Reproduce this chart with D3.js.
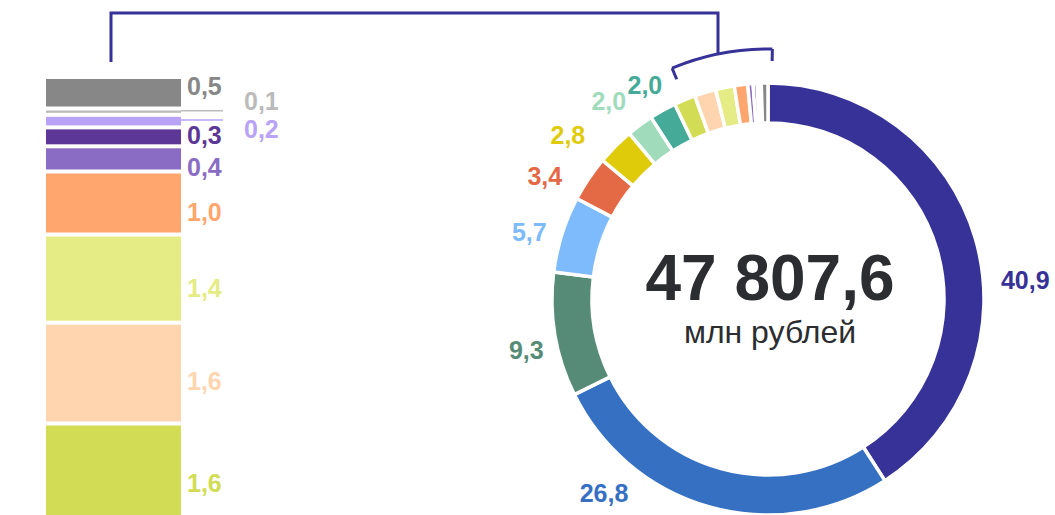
<!DOCTYPE html>
<html>
<head>
<meta charset="utf-8">
<script src="https://cdn.jsdelivr.net/npm/d3@7"></script>
<style>
  body { margin: 0; background: #fff; }
  svg { font-family: "Liberation Sans", Arial, sans-serif; }
</style>
</head>
<body>
<div id="chart"></div>
<script>
// shares, % (clockwise from 12 o'clock)
const donutValues = [40.9, 26.8, 9.3, 5.7, 3.4, 2.8, 2.0, 2.0, 1.6, 1.6, 1.4, 1.0, 0.4, 0.3, 0.2, 0.1, 0.5];
const donutColors = ['#373297', '#3570c2', '#568b78', '#7ebbfc', '#e46a46', '#dfcb0a', '#a0dcbb', '#45aa98',
  '#d2dd55', '#fed5ae', '#e5eb85', '#ffa56e', '#8a6cc4', '#5c3797', '#b9a3f7', '#bbbbbb', '#878787'];
const labelled = 8;          // the first slices carry their own label, the rest go to the bar
const totalValue = 47807.6;
const totalUnit = 'млн рублей';

const w = 1055;
const h = 515;

const ru = d3.formatLocale({ decimal: ',', thousands: '\u00a0', grouping: [3], currency: ['', ' ₽'] });
const fmt = ru.format('.1f');
const fmtTotal = ru.format(',.1f');

const svg = d3.select('#chart')
  .append('svg')
  .attr('width', w)
  .attr('height', h);

// ---- donut ----
const cx = 768, cy = 299;
const outerR = 216, innerR = 176;

const pie = d3.pie().sort(null).value(d => d);
const arcs = pie(donutValues);
const arc = d3.arc().innerRadius(innerR).outerRadius(outerR);

const donut = svg.append('g').attr('transform', `translate(${cx},${cy})`);

donut.selectAll('path')
  .data(arcs)
  .enter()
  .append('path')
  .attr('d', arc)
  .attr('fill', (d, i) => donutColors[i])
  .attr('stroke', '#fff')
  .attr('stroke-width', 3.5);

// label placement around the ring: [angle in degrees, radius]
const donutLabelPos = [[85.8, 258], [220.2, 254], [258.1, 247], [285.7, 248], [298.9, 255], [309.4, 259], [321.2, 254], [330.1, 247]];

donut.selectAll('text.val')
  .data(arcs.slice(0, labelled))
  .enter()
  .append('text')
  .attr('class', 'val')
  .attr('x', (d, i) => d3.pointRadial(donutLabelPos[i][0] * Math.PI / 180, donutLabelPos[i][1])[0])
  .attr('y', (d, i) => d3.pointRadial(donutLabelPos[i][0] * Math.PI / 180, donutLabelPos[i][1])[1])
  .attr('dy', '0.36em')
  .attr('text-anchor', 'middle')
  .style('font-size', '25px')
  .style('font-weight', 'bold')
  .style('fill', (d, i) => donutColors[i])
  .text(d => fmt(d.data));

donut.append('text')
  .attr('x', 2)
  .attr('y', 1)
  .attr('text-anchor', 'middle')
  .style('font-size', '64px')
  .style('font-weight', 'bold')
  .style('fill', '#2b2d30')
  .text(fmtTotal(totalValue));

donut.append('text')
  .attr('x', 2)
  .attr('y', 44)
  .attr('text-anchor', 'middle')
  .style('font-size', '32px')
  .style('fill', '#2b2d30')
  .text(totalUnit);

// bracket over the small slices
const restStart = arcs[labelled].startAngle + 3 * Math.PI / 180;
const restEnd = 2 * Math.PI + 1 * Math.PI / 180;
const bracketR = 250, tickR = 238;
const bracketColor = '#373297';

donut.append('path')
  .attr('d', d3.arc().innerRadius(bracketR).outerRadius(bracketR).startAngle(restStart).endAngle(restEnd)())
  .attr('fill', 'none')
  .attr('stroke', bracketColor)
  .attr('stroke-width', 3);

[restStart, restEnd].forEach(a => {
  const p0 = d3.pointRadial(a, bracketR);
  const p1 = d3.pointRadial(a, tickR);
  donut.append('line')
    .attr('x1', p0[0]).attr('y1', p0[1])
    .attr('x2', p1[0]).attr('y2', p1[1])
    .attr('stroke', bracketColor)
    .attr('stroke-width', 3);
});

// ---- stacked bar of the small slices ----
const barValues = donutValues.slice(labelled).reverse();
const barColors = donutColors.slice(labelled).reverse();
const barX = 46, barW = 135, gap = 4;

const yScale = d3.scaleLinear()
  .domain([0, d3.sum(barValues)])
  .range([77, 77 + 63 * d3.sum(barValues)]);

let acc = 0;
const stack = barValues.map((v, i) => {
  const s = { v, i, y0: acc, y1: acc + v };
  acc += v;
  return s;
});

svg.selectAll('rect.seg')
  .data(stack)
  .enter()
  .append('rect')
  .attr('class', 'seg')
  .attr('x', barX)
  .attr('y', d => yScale(d.y0) + gap / 2)
  .attr('width', barW)
  .attr('height', d => Math.max(1.3, yScale(d.y1) - yScale(d.y0) - gap))
  .style('fill', d => barColors[d.i]);

// label nudges (baseline offset from segment middle), and which sit outside with a leader
const barLabelDy = [2, -2, 17, 7, 17, 18, 18, 17, 18];
const barLabelOut = [false, true, true, false, false, false, false, false, false];
const leaderEnd = 223;

svg.selectAll('line.leader')
  .data(stack.filter(d => barLabelOut[d.i]))
  .enter()
  .append('line')
  .attr('class', 'leader')
  .attr('x1', barX + barW)
  .attr('x2', leaderEnd)
  .attr('y1', d => (yScale(d.y0) + yScale(d.y1)) / 2 - 1)
  .attr('y2', d => (yScale(d.y0) + yScale(d.y1)) / 2 - 1)
  .attr('stroke', d => barColors[d.i])
  .attr('stroke-width', 1.5);

svg.selectAll('text.barval')
  .data(stack)
  .enter()
  .append('text')
  .attr('class', 'barval')
  .attr('x', d => barLabelOut[d.i] ? leaderEnd + 21 : barX + barW + 6)
  .attr('y', d => (yScale(d.y0) + yScale(d.y1)) / 2 + barLabelDy[d.i])
  .style('font-size', '25px')
  .style('font-weight', 'bold')
  .style('fill', d => barColors[d.i])
  .text(d => fmt(d.v));

// connector from the bar to the bracket
const midA = (restStart + restEnd) / 2;
const joinX = 718;
const joinY = cy + d3.pointRadial(midA, bracketR)[1];
svg.append('path')
  .attr('d', d3.line()([[111, 62], [111, 13], [joinX, 13], [joinX, joinY]]))
  .attr('fill', 'none')
  .attr('stroke', bracketColor)
  .attr('stroke-width', 3);
</script>
</body>
</html>
